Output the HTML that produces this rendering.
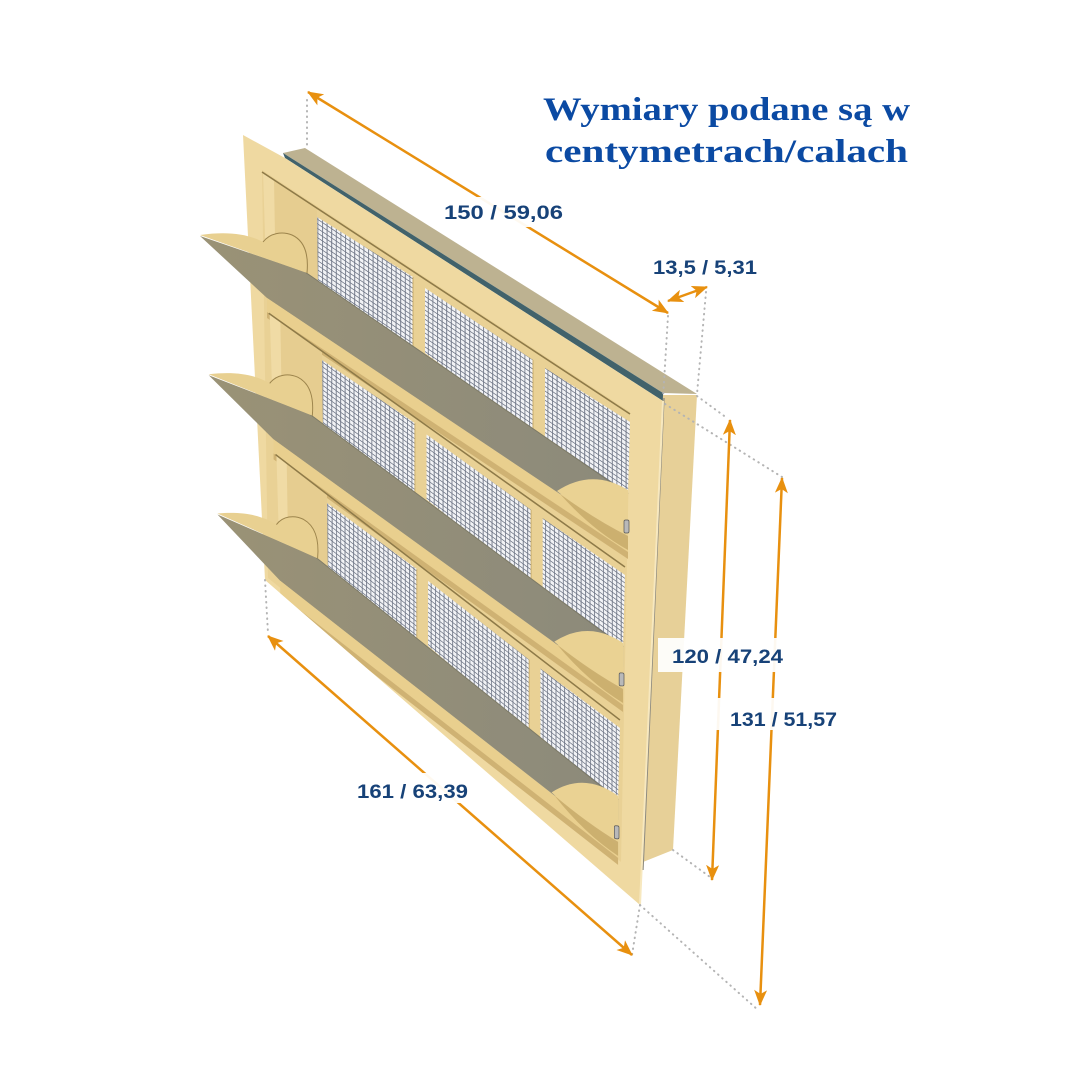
<!DOCTYPE html>
<html><head><meta charset="utf-8">
<style>html,body{margin:0;padding:0;background:#fff;}svg{display:block}</style>
</head><body>
<svg width="1080" height="1080" viewBox="0 0 1080 1080" xmlns="http://www.w3.org/2000/svg">
<defs>
  <pattern id="mesh" width="4.6" height="4.6" patternUnits="userSpaceOnUse" patternTransform="skewY(34)">
    <rect width="4.6" height="4.6" fill="#f2f3f6"/>
    <path d="M0,0.5H4.6M0.5,0V4.6" stroke="#6f7686" stroke-width="0.9" fill="none"/>
  </pattern>
  <linearGradient id="floor" x1="0" y1="0" x2="1" y2="0">
    <stop offset="0" stop-color="#9a9276"/>
    <stop offset="1" stop-color="#8c8a7b"/>
  </linearGradient>
  <marker id="ah" viewBox="0 0 16 13" markerWidth="16" markerHeight="13" refX="15" refY="6.5" orient="auto-start-reverse" markerUnits="userSpaceOnUse">
    <path d="M0,0 L16,6.5 L0,13 L4,6.5 Z" fill="#e8900f"/>
  </marker>
  <clipPath id="fc"><polygon points="100,100 700,100 640,905 265,580 100,580"/></clipPath>
  <g id="row">
    <polygon points="263,173 317,208 317,288 305,273 267,299" fill="#e6cd90"/>
    <polygon points="263,173 274,180 276,293 267,299" fill="#f0dba5"/>
    <line x1="262" y1="172" x2="630" y2="414" stroke="#8e7a48" stroke-width="1.6"/>
    <polygon points="317,217 413,277 413,347 318,287" fill="url(#mesh)"/>
    <polygon points="425,288 533,360 533,432 425,353" fill="url(#mesh)"/>
    <polygon points="545,368 630,422 628,494 545,440" fill="url(#mesh)"/>
    <line x1="413" y1="277" x2="413" y2="348" stroke="#c9ad6c" stroke-width="1"/>
    <line x1="533" y1="360" x2="533" y2="432" stroke="#c9ad6c" stroke-width="1"/>
    <polygon points="200,236 305,272 628,494 628,514 560,494 267,298" fill="url(#floor)"/>
    <line x1="305" y1="272" x2="628" y2="494" stroke="#7d7a66" stroke-width="1"/>
    <path d="M200,235 C228,231 248,234 263,242 C270,233 282,231 292,235 C303,240 309,252 307,273 Z" fill="#e8d091"/>
    <path d="M263,242 C270,233 282,231 292,235 C303,240 309,252 307,273" fill="none" stroke="#9c844c" stroke-width="1"/>
    <polygon points="267,298 628,540 628,552 267,312" fill="#e9cf8e"/>
    <polygon points="267,312 628,552 628,559 267,318" fill="#cfb273"/>
    <path d="M557,491 Q592,468 628,490 L628,536 Q594,522 557,491 Z" fill="#ead293"/>
    <path d="M560,494 Q596,520 628,536 L628,550 Q592,530 560,494 Z" fill="#c4a868" opacity="0.8"/>
    <rect x="624" y="520" width="5" height="13" rx="1.5" fill="#b9b9b9" stroke="#555" stroke-width="0.7"/>
  </g>
</defs>
<rect width="1080" height="1080" fill="#fff"/>

<!-- box top, stripe, side -->
<polygon points="283,153 305,148 697,394 663,393" fill="#bdb291"/>
<polygon points="283,153 663,393 663,401 285,158" fill="#41626b"/>
<polygon points="663,395 697,395 673,850 643,862" fill="#e7d098"/>
<line x1="664" y1="398" x2="643" y2="870" stroke="#8d8a7f" stroke-width="1.3"/>

<!-- flange -->
<polygon points="243,135 285,158 663,401 640,905 265,580" fill="#efd9a1"/>
<line x1="663" y1="401" x2="640" y2="905" stroke="#f7e8bf" stroke-width="2"/>
<!-- inner area -->
<polygon points="262,170 630,412 621,862 268,578" fill="#e9d195"/>

<g clip-path="url(#fc)">
  <use href="#row"/>
  <use href="#row" transform="matrix(0.968,0.032,0,1,15.13,132.86)"/>
  <use href="#row" transform="matrix(0.936,0.064,0,1,30.26,265.7)"/>
</g>

<!-- dotted extension lines -->
<g stroke="#b4b4b4" stroke-width="2" stroke-linecap="round" stroke-dasharray="0.5 5" fill="none">
  <line x1="307" y1="100" x2="307" y2="147"/>
  <line x1="668" y1="316" x2="663" y2="398"/>
  <line x1="706" y1="292" x2="697" y2="394"/>
  <line x1="697" y1="396" x2="727" y2="418"/>
  <line x1="665" y1="404" x2="782" y2="477"/>
  <line x1="673" y1="850" x2="710" y2="877"/>
  <line x1="640" y1="905" x2="758" y2="1010"/>
  <line x1="640" y1="905" x2="632" y2="955"/>
  <line x1="265" y1="580" x2="268" y2="633"/>
</g>

<!-- orange dimension lines -->
<g stroke="#e8900f" stroke-width="2.5" fill="none">
  <line x1="308" y1="92" x2="668" y2="313" marker-start="url(#ah)" marker-end="url(#ah)"/>
  <line x1="668" y1="301" x2="707" y2="287" marker-start="url(#ah)" marker-end="url(#ah)"/>
  <line x1="730" y1="420" x2="712" y2="880" marker-start="url(#ah)" marker-end="url(#ah)"/>
  <line x1="782" y1="478" x2="760" y2="1005" marker-start="url(#ah)" marker-end="url(#ah)"/>
  <line x1="268" y1="636" x2="632" y2="955" marker-start="url(#ah)" marker-end="url(#ah)"/>
</g>

<!-- label boxes -->
<g fill="#ffffff" opacity="0.94">
  <rect x="440" y="197" width="130" height="30"/>
  <rect x="648" y="252" width="112" height="28"/>
  <rect x="658" y="638" width="139" height="34"/>
  <rect x="713" y="698" width="135" height="32"/>
  <rect x="352" y="773" width="121" height="30"/>
</g>

<!-- labels -->
<g font-family="'Liberation Sans', Arial, sans-serif" font-weight="bold" font-size="19" fill="#174278">
  <text x="444" y="219" textLength="119" lengthAdjust="spacingAndGlyphs">150 / 59,06</text>
  <text x="653" y="274" textLength="104" lengthAdjust="spacingAndGlyphs">13,5 / 5,31</text>
  <text x="672" y="663" textLength="111" lengthAdjust="spacingAndGlyphs">120 / 47,24</text>
  <text x="730" y="726" textLength="107" lengthAdjust="spacingAndGlyphs">131 / 51,57</text>
  <text x="357" y="798" textLength="111" lengthAdjust="spacingAndGlyphs">161 / 63,39</text>
</g>

<!-- title -->
<g font-family="'Liberation Serif', 'Times New Roman', serif" font-weight="bold" font-size="33" fill="#0b4aa3">
  <text x="543" y="120" textLength="367" lengthAdjust="spacingAndGlyphs">Wymiary podane są w</text>
  <text x="545" y="162" textLength="363" lengthAdjust="spacingAndGlyphs">centymetrach/calach</text>
</g>
</svg>
</body></html>
